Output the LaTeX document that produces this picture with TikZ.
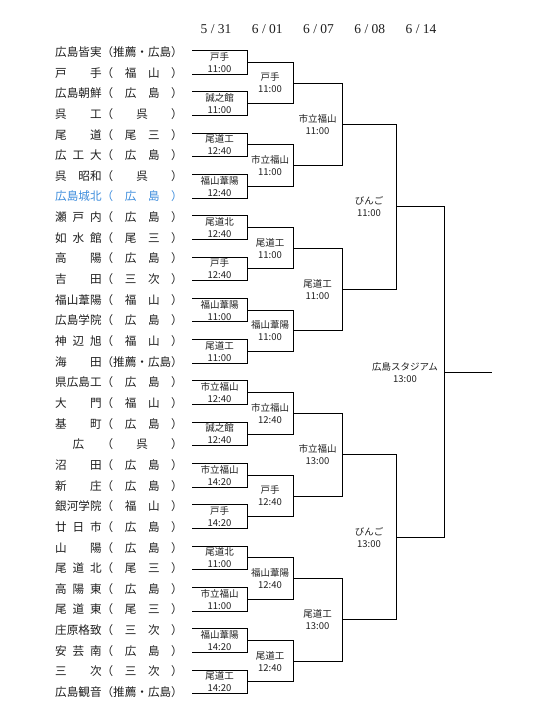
\documentclass[tikz,border=0pt]{standalone}
\usepackage{fontspec}
\setmainfont{Liberation Serif}
\newfontfamily\jpfont{Noto Sans CJK JP}
\usetikzlibrary{positioning,calc}

\definecolor{ink}{RGB}{30,30,30}
\definecolor{cityblue}{RGB}{60,140,220}

\tikzset{
  team/.style={anchor=west,inner sep=0pt,font=\jpfont\fontsize{11.6}{12}\selectfont,text=ink},
  game/.style={align=center,inner sep=0pt,font=\jpfont\fontsize{9.5}{12}\selectfont,text=ink},
  day/.style={inner sep=0pt,font=\fontsize{13.5}{14}\selectfont,text=ink},
  wire/.style={line width=0.95pt,black},
}

\begin{document}
\begin{tikzpicture}[x=1pt,y=-1pt]
    \useasboundingbox (0,0) rectangle (540,720);

    % dates
    \foreach \d [count=\i] in {5 / 31,6 / 01,6 / 07,6 / 08,6 / 14}
      \node[day] (day\i) at ({164.75+51.25*\i},29) {\d};

    % teams
    \foreach \nm/\rg [count=\i] in {
        広島皆実/推薦・広島,
        戸\hfill 手/\hfill 福\hfill 山\hfill,
        広島朝鮮/\hfill 広\hfill 島\hfill,
        呉\hfill 工/\hfill 呉\hfill,
        尾\hfill 道/\hfill 尾\hfill 三\hfill,
        広\hfill 工\hfill 大/\hfill 広\hfill 島\hfill,
        呉\hfill 昭和/\hfill 呉\hfill,
        広島城北/\hfill 広\hfill 島\hfill,
        瀬\hfill 戸\hfill 内/\hfill 広\hfill 島\hfill,
        如\hfill 水\hfill 館/\hfill 尾\hfill 三\hfill,
        高\hfill 陽/\hfill 広\hfill 島\hfill,
        吉\hfill 田/\hfill 三\hfill 次\hfill,
        福山葦陽/\hfill 福\hfill 山\hfill,
        広島学院/\hfill 広\hfill 島\hfill,
        神\hfill 辺\hfill 旭/\hfill 福\hfill 山\hfill,
        海\hfill 田/推薦・広島,
        県広島工/\hfill 広\hfill 島\hfill,
        大\hfill 門/\hfill 福\hfill 山\hfill,
        基\hfill 町/\hfill 広\hfill 島\hfill,
        \hfill 広\hfill/\hfill 呉\hfill,
        沼\hfill 田/\hfill 広\hfill 島\hfill,
        新\hfill 庄/\hfill 広\hfill 島\hfill,
        銀河学院/\hfill 福\hfill 山\hfill,
        廿\hfill 日\hfill 市/\hfill 広\hfill 島\hfill,
        山\hfill 陽/\hfill 広\hfill 島\hfill,
        尾\hfill 道\hfill 北/\hfill 尾\hfill 三\hfill,
        高\hfill 陽\hfill 東/\hfill 広\hfill 島\hfill,
        尾\hfill 道\hfill 東/\hfill 尾\hfill 三\hfill,
        庄原格致/\hfill 三\hfill 次\hfill,
        安\hfill 芸\hfill 南/\hfill 広\hfill 島\hfill,
        三\hfill 次/\hfill 三\hfill 次\hfill,
        広島観音/推薦・広島} {
      \ifnum\i=8 \def\tc{cityblue}\else\def\tc{ink}\fi
      \node[team,text=\tc] (t\i) at (55,{52+20.65*(\i-1)})
        {\makebox[4em][s]{\nm}（\makebox[5em][s]{\rg}）};
      \coordinate (c0-\i) at (192,{52+20.65*(\i-1)+3*mod(\i+1,2)-1.5});
    }

    % bracket
    \foreach \r/\xr/\cnt in {1/247/16,2/293/8,3/342/4,4/396/2,5/444/1} {
      \pgfmathtruncatemacro\pr{\r-1}
      \foreach \k in {1,...,\cnt} {
        \pgfmathtruncatemacro\a{2*\k-1}
        \pgfmathtruncatemacro\b{2*\k}
        \path let \p1=($(c\pr-\a)!0.5!(c\pr-\b)$) in
          coordinate (c\r-\k) at (\xr pt,\y1);
        \draw[wire] (c\pr-\a) -- (c\pr-\a -| c\r-\k) -- (c\pr-\b -| c\r-\k) -- (c\pr-\b);
        \coordinate (g\r-\k) at ($(c\pr-\a)!0.5!(c\pr-\b -| c\r-\k)$);
      }
    }
    \coordinate (champ) at (492,0);
    \draw[wire] (c5-1) -- (c5-1 -| champ);

    % venues and times
    \foreach \r/\k/\v/\t in {
        1/1/戸手/11:00, 1/2/誠之館/11:00, 1/3/尾道工/12:40, 1/4/福山葦陽/12:40,
        1/5/尾道北/12:40, 1/6/戸手/12:40, 1/7/福山葦陽/11:00, 1/8/尾道工/11:00,
        1/9/市立福山/12:40, 1/10/誠之館/12:40, 1/11/市立福山/14:20, 1/12/戸手/14:20,
        1/13/尾道北/11:00, 1/14/市立福山/11:00, 1/15/福山葦陽/14:20, 1/16/尾道工/14:20,
        2/1/戸手/11:00, 2/2/市立福山/11:00, 2/3/尾道工/11:00, 2/4/福山葦陽/11:00,
        2/5/市立福山/12:40, 2/6/戸手/12:40, 2/7/福山葦陽/12:40, 2/8/尾道工/12:40,
        3/1/市立福山/11:00, 3/2/尾道工/11:00, 3/3/市立福山/13:00, 3/4/尾道工/13:00,
        4/1/びんご/11:00, 4/2/びんご/13:00}
      \node[game] (v\r-\k) at (g\r-\k) {\v\\\t};
    \node[game,xshift=-15pt] (v5-1) at (g5-1) {広島スタジアム\\13:00};
\end{tikzpicture}
\end{document}
